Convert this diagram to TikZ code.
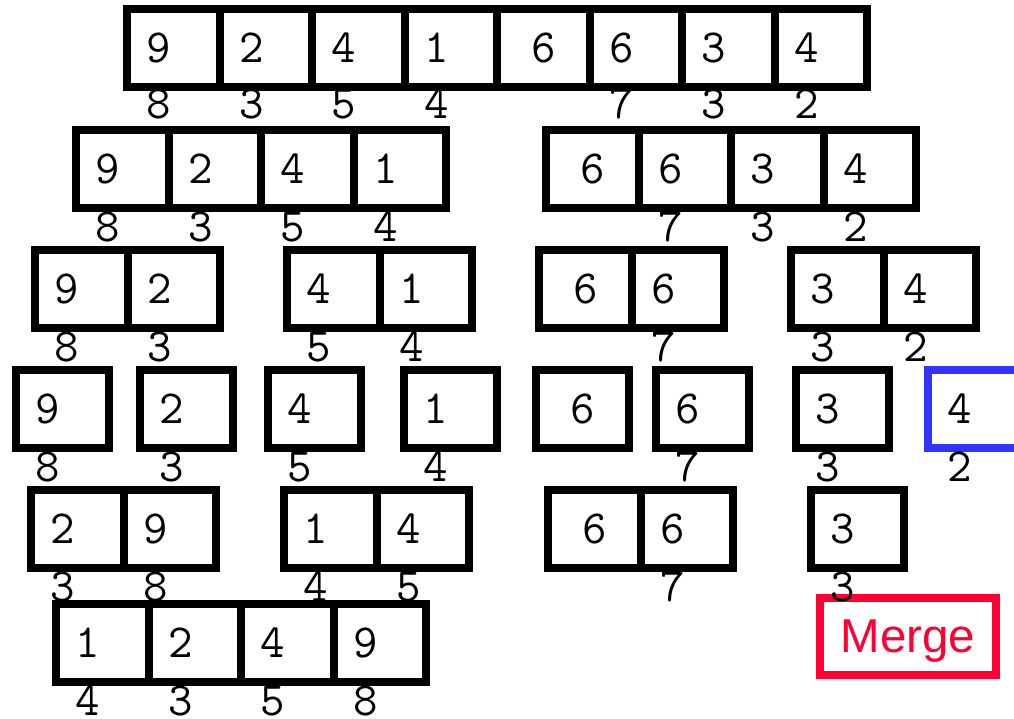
\documentclass[tikz,border=0pt]{standalone}
\usepackage{xcolor}
\usepackage{fontspec}
\usepackage{tikz}
\newfontfamily\mergefont{Liberation Sans}
\definecolor{MSBlue}{HTML}{3333FF}
\definecolor{MSRed}{HTML}{FF0033}

\begin{document}
\begin{tikzpicture}[x=1pt,y=-1pt,
  cell/.style={draw,line width=8pt,minimum height=78pt,inner xsep=19.5pt,
    text width=53.5pt,align=left,font=\fontsize{47.5}{48}\selectfont\ttfamily},
  cellmid/.style={cell,align=center},
  idx/.style={inner sep=0pt,font=\fontsize{47.5}{48}\selectfont\ttfamily},
  mergebox/.style={draw=MSRed,text=MSRed,line width=8pt,minimum width=176pt,
    minimum height=77pt,inner sep=0pt,text depth=0pt,
    font=\fontsize{47.5}{48}\selectfont\mergefont}]
\path[use as bounding box] (0,0) rectangle (1014,719);
\node[mergebox] (merge) at (908,636.5) {Merge};
% row 1
\node[cell] (r1a) at (173.25,48) {9};
\node[cell] (r1b) at (265.75,48) {2};
\node[cell] (r1c) at (358.25,48) {4};
\node[cell] (r1d) at (450.75,48) {1};
\node[cellmid] (r1e) at (543.25,48) {6};
\node[cell] (r1f) at (635.75,48) {6};
\node[cell] (r1g) at (728.25,48) {3};
\node[cell] (r1h) at (820.75,48) {4};
\node[idx] (i1a) at (159,104) {8};
\node[idx] (i1b) at (251.5,104) {3};
\node[idx] (i1c) at (344,104) {5};
\node[idx] (i1d) at (436.5,104) {4};
\node[idx] (i1f) at (621.5,104) {7};
\node[idx] (i1g) at (714,104) {3};
\node[idx] (i1h) at (806.5,104) {2};
% row 2
\node[cell] (r2a) at (122.25,169) {9};
\node[cell] (r2b) at (214.75,169) {2};
\node[cell] (r2c) at (307.25,169) {4};
\node[cell] (r2d) at (399.75,169) {1};
\node[cellmid] (r2e) at (592.25,169) {6};
\node[cell] (r2f) at (684.75,169) {6};
\node[cell] (r2g) at (777.25,169) {3};
\node[cell] (r2h) at (869.75,169) {4};
\node[idx] (i2a) at (108,227) {8};
\node[idx] (i2b) at (200.5,227) {3};
\node[idx] (i2c) at (293,227) {5};
\node[idx] (i2d) at (385.5,227) {4};
\node[idx] (i2f) at (670.5,227) {7};
\node[idx] (i2g) at (763,227) {3};
\node[idx] (i2h) at (855.5,227) {2};
% row 3
\node[cell] (r3a) at (81.25,289) {9};
\node[cell] (r3b) at (173.75,289) {2};
\node[cell] (r3c) at (333.25,289) {4};
\node[cell] (r3d) at (425.75,289) {1};
\node[cellmid] (r3e) at (585.25,289) {6};
\node[cell] (r3f) at (677.75,289) {6};
\node[cell] (r3g) at (837.25,289) {3};
\node[cell] (r3h) at (929.75,289) {4};
\node[idx] (i3a) at (67,347) {8};
\node[idx] (i3b) at (159.5,347) {3};
\node[idx] (i3c) at (319,347) {5};
\node[idx] (i3d) at (411.5,347) {4};
\node[idx] (i3f) at (663.5,347) {7};
\node[idx] (i3g) at (823,347) {3};
\node[idx] (i3h) at (915.5,347) {2};
% row 4
\node[cell] (r4a) at (62.25,409) {9};
\node[cell] (r4b) at (186.25,409) {2};
\node[cell] (r4c) at (314.25,409) {4};
\node[cell] (r4d) at (450.25,409) {1};
\node[cellmid] (r4e) at (582.25,409) {6};
\node[cell] (r4f) at (702.25,409) {6};
\node[cell] (r4g) at (842.25,409) {3};
\node[cell,draw=MSBlue] (r4h) at (974.25,409) {4};
\node[idx] (i4a) at (48,467) {8};
\node[idx] (i4b) at (172,467) {3};
\node[idx] (i4c) at (300,467) {5};
\node[idx] (i4d) at (436,467) {4};
\node[idx] (i4f) at (688,467) {7};
\node[idx] (i4g) at (828,467) {3};
\node[idx] (i4h) at (960,467) {2};
% row 5
\node[cell] (r5a) at (77.25,529) {2};
\node[cell] (r5b) at (169.75,529) {9};
\node[cell] (r5c) at (330.25,529) {1};
\node[cell] (r5d) at (422.75,529) {4};
\node[cellmid] (r5e) at (594.25,529) {6};
\node[cell] (r5f) at (686.75,529) {6};
\node[cell] (r5g) at (857.25,529) {3};
\node[idx] (i5a) at (63,587) {3};
\node[idx] (i5b) at (155.5,587) {8};
\node[idx] (i5c) at (316,587) {4};
\node[idx] (i5d) at (408.5,587) {5};
\node[idx] (i5f) at (672.5,587) {7};
\node[idx] (i5g) at (843,587) {3};
% row 6
\node[cell] (r6a) at (102.25,642.5) {1};
\node[cell] (r6b) at (194.75,642.5) {2};
\node[cell] (r6c) at (287.25,642.5) {4};
\node[cell] (r6d) at (379.75,642.5) {9};
\node[idx] (i6a) at (88,701) {4};
\node[idx] (i6b) at (180.5,701) {3};
\node[idx] (i6c) at (273,701) {5};
\node[idx] (i6d) at (365.5,701) {8};
\end{tikzpicture}
\end{document}
